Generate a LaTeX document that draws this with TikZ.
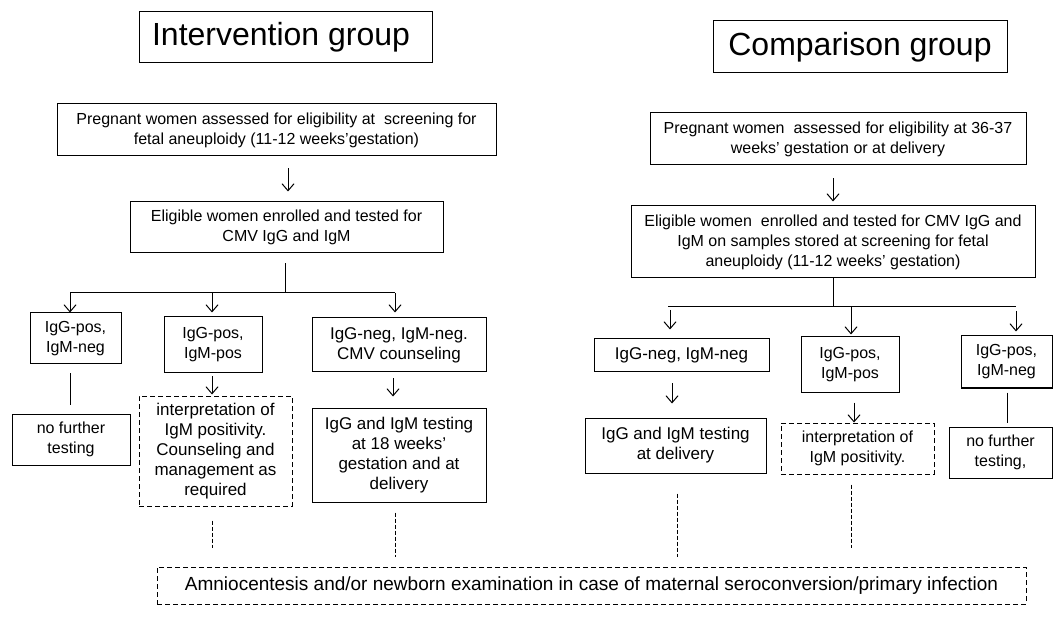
\documentclass[tikz,border=0pt]{standalone}
\usepackage{fontspec}
\setmainfont{Liberation Sans}
\usetikzlibrary{arrows.meta}
\newcommand{\bodyfont}{\fontsize{16}{20}\selectfont}
\newcommand{\bigbodyfont}{\fontsize{17}{20}\selectfont}
\newcommand{\titlefont}{\fontsize{32}{36}\selectfont}
\tikzset{
  box/.style={draw, line width=1pt, inner sep=0pt, align=center, font=\bodyfont},
  bigbox/.style={box, font=\bigbodyfont},
  dbox/.style={box, dash pattern=on 5pt off 3pt},
  titlebox/.style={draw, line width=1pt, inner sep=0pt, font=\titlefont},
  arr/.style={->, line width=1pt},
  link/.style={line width=1pt},
  dlink/.style={line width=0.6pt, dash pattern=on 4pt off 2pt}
}
\begin{document}
\begin{tikzpicture}[x=1pt, y=-1pt, >={Straight Barb[length=7pt,width=12pt]}]
  \useasboundingbox (0,0) rectangle (1058,636);
  % 1. group titles
  \node[titlebox, minimum width=293pt, minimum height=51pt] (tint) at (285.5, 37.5) {Intervention group\ \ };
  \node[titlebox, minimum width=294pt, minimum height=52pt] (tcmp) at (860, 47) {Comparison group};

  % 2. intervention group boxes
  \node[box, minimum width=439pt, minimum height=52pt] (ipreg) at (276.5, 130) {Pregnant women assessed for eligibility at\ \ screening for\\fetal aneuploidy (11-12 weeks’gestation)};
  \node[box, minimum width=313pt, minimum height=51pt] (ielig) at (286.5, 227.5) {Eligible women enrolled and tested for\\CMV IgG and IgM};
  \node[box, minimum width=91pt, minimum height=51pt] (ipn) at (75.5, 338.5) {IgG-pos,\\IgM-neg};
  \node[box, minimum width=98pt, minimum height=56pt] (ipp) at (213, 345) {IgG-pos,\\IgM-pos};
  \node[bigbox, minimum width=174pt, minimum height=54pt] (inn) at (399, 345) {IgG-neg, IgM-neg.\\CMV counseling};
  \node[box, minimum width=118pt, minimum height=51pt] (inofurther) at (71, 439.5) {no further\\testing};
  \node[dbox, font=\bigbodyfont, minimum width=153pt, minimum height=110pt] (iinterp) at (215.5, 451) {interpretation of\\IgM positivity.\\Counseling and\\management as\\required};
  \node[bigbox, minimum width=174pt, minimum height=94pt] (itest) at (399, 455) {IgG and IgM testing\\at 18 weeks’\\gestation and at\\delivery};

  % 3. comparison group boxes
  \node[box, minimum width=376pt, minimum height=52pt] (cpreg) at (838, 139) {Pregnant women\ \ assessed for eligibility at 36-37\\weeks’ gestation or at delivery};
  \node[box, minimum width=404pt, minimum height=72pt] (celig) at (833, 242) {Eligible women\ \ enrolled and tested for CMV IgG and\\IgM on samples stored at screening for fetal\\aneuploidy (11-12 weeks’ gestation)};
  \node[bigbox, minimum width=175pt, minimum height=33pt] (cnn) at (681.5, 355.5) {IgG-neg, IgM-neg};
  \node[box, minimum width=98pt, minimum height=55pt] (cpp) at (850, 364.5) {IgG-pos,\\IgM-pos};
  \node[box, minimum width=91pt, minimum height=52pt] (cpn) at (1006.5, 362) {IgG-pos,\\IgM-neg};
  \node[bigbox, minimum width=181pt, minimum height=55pt] (ctest) at (675.5, 445.5) {IgG and IgM testing\\at delivery};
  \node[dbox, minimum width=153pt, minimum height=51pt] (cinterp) at (857.5, 448.5) {interpretation of\\IgM positivity.};
  \node[box, minimum width=103pt, minimum height=51pt] (cnofurther) at (1000.5, 452.5) {no further\\testing,};

  % 4. common outcome
  \node[box, font=\fontsize{19}{23}\selectfont, dash pattern=on 5pt off 3pt, minimum width=869pt, minimum height=37pt] (amnio) at (591.5, 585.5) {Amniocentesis and/or newborn examination in case of maternal seroconversion/primary infection};

  % 5. intervention connectors
  \coordinate (ij) at (285, 293);
  \coordinate (ib1) at (70, 293);
  \coordinate (ib2) at (212, 293);
  \coordinate (ib3) at (395, 293);
  \draw[arr, shorten <=12pt, shorten >=10pt] (ipreg.south -| 288,0) -- (ielig.north -| 288,0);
  \draw[link, shorten <=10pt] (ielig.south -| ij) -- (ij);
  \draw[link] (ib1) -- (ib3);
  \draw[arr] (ib1) -- (ib1 |- ipn.north);
  \draw[arr, shorten >=4pt] (ib2) -- (ib2 |- ipp.north);
  \draw[arr, shorten >=5pt] (ib3) -- (ib3 |- inn.north);
  \draw[link, shorten <=9pt, shorten >=9pt] (ipn.south -| ib1) -- (inofurther.north -| ib1);
  \draw[arr, shorten <=3pt, shorten >=1pt] (ipp.south -| ib2) -- (iinterp.north -| ib2);
  \draw[arr, shorten <=6pt, shorten >=11pt] (inn.south -| 393,0) -- (itest.north -| 393,0);
  \draw[dlink, shorten <=14pt, shorten >=19pt] (iinterp.south -| ib2) -- (amnio.north -| ib2);
  \draw[dlink, shorten <=10pt, shorten >=10pt] (itest.south -| ib3) -- (amnio.north -| ib3);

  % 6. comparison connectors
  \coordinate (cj) at (833, 307);
  \coordinate (cb1) at (670, 307);
  \coordinate (cb2) at (851, 307);
  \coordinate (cb3) at (1016, 307);
  \draw[arr, shorten <=13pt, shorten >=4pt] (cpreg.south -| celig.south) -- (celig.north);
  \draw[link] (celig.south) -- (cj);
  \draw[link] (668, 307) -- (cb3);
  \draw[arr, shorten <=3pt, shorten >=9pt] (cb1) -- (cb1 |- cnn.north);
  \draw[arr, shorten >=2pt] (cb2) -- (cb2 |- cpp.north);
  \draw[arr, shorten <=4pt, shorten >=4pt] (cb3) -- (cb3 |- cpn.north);
  \draw[arr, shorten <=11pt, shorten >=14pt] (cnn.south -| 672,0) -- (ctest.north -| 672,0);
  \draw[arr, shorten <=10pt] (cpp.south -| 854,0) -- (cinterp.north -| 854,0);
  \draw[link, shorten <=4pt, shorten >=4pt] (cpn.south -| 1007,0) -- (cnofurther.north -| 1007,0);
  \draw[dlink, shorten <=20pt, shorten >=10pt] (ctest.south -| 677,0) -- (amnio.north -| 677,0);
  \draw[dlink, shorten <=10pt, shorten >=19pt] (cinterp.south -| cb2) -- (amnio.north -| cb2);
\end{tikzpicture}
\end{document}
